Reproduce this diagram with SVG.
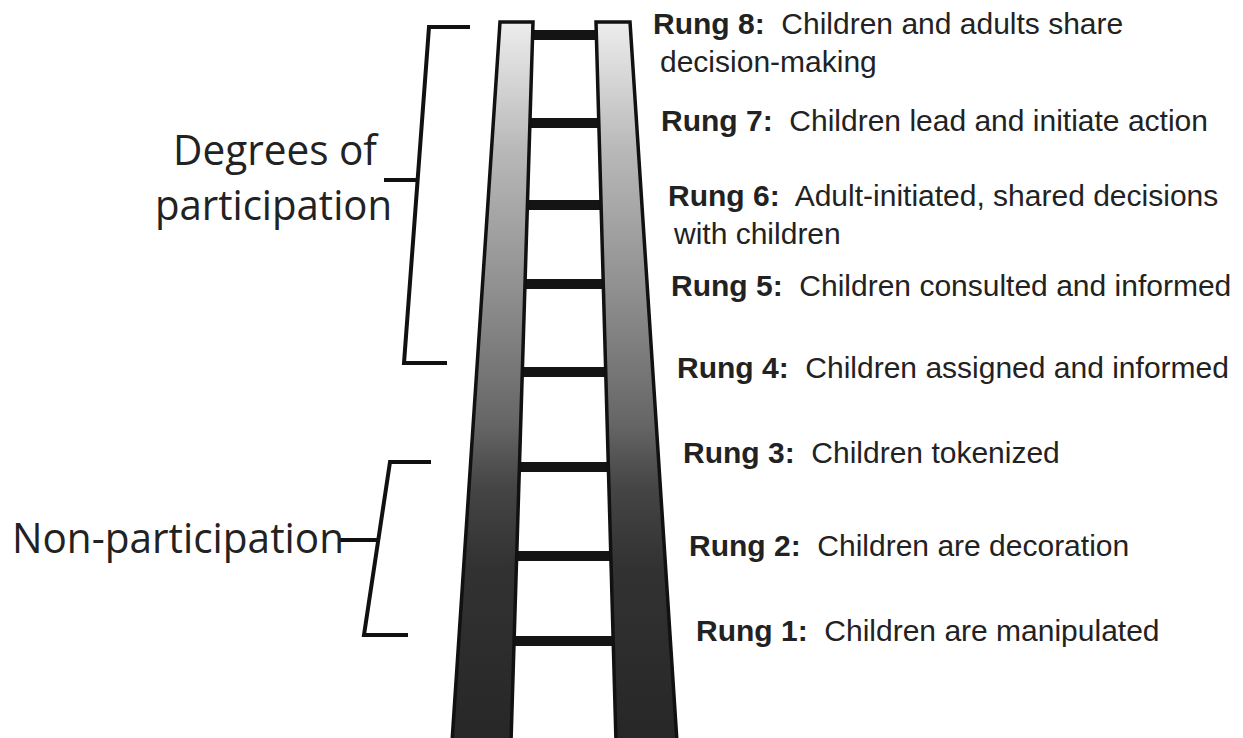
<svg xmlns="http://www.w3.org/2000/svg" width="1243" height="738" viewBox="0 0 1243 738">
<style>
.rung-label{font-family:"Liberation Sans",Arial,sans-serif;font-size:30px;fill:#222;white-space:pre}
.rung-label .b{font-weight:bold}
.side{font-family:"Open Sans","Liberation Sans",sans-serif;font-size:42px;fill:#222}
.bracket{fill:none;stroke:#111;stroke-width:4;stroke-linejoin:miter}
.rail{fill:url(#railGrad);stroke:#111;stroke-width:3.5;stroke-linejoin:miter}
.step{fill:#141414}
</style>
<defs>
<linearGradient id="railGrad" x1="0" y1="22" x2="0" y2="738" gradientUnits="userSpaceOnUse">
<stop offset="0" stop-color="#ededed"/>
<stop offset="0.18" stop-color="#b8b8b8"/>
<stop offset="0.39" stop-color="#8c8c8c"/>
<stop offset="0.56" stop-color="#666"/>
<stop offset="0.65" stop-color="#454545"/>
<stop offset="0.76" stop-color="#323232"/>
<stop offset="1" stop-color="#272727"/>
</linearGradient>
</defs>
<rect width="1243" height="738" fill="#fff"/>
<g id="ladder">
<rect class="step" x="525" y="30" width="80" height="10"/>
<rect class="step" x="525" y="118" width="80" height="10"/>
<rect class="step" x="522" y="200" width="85" height="10"/>
<rect class="step" x="520" y="279" width="88" height="10"/>
<rect class="step" x="518" y="367" width="92" height="10"/>
<rect class="step" x="515" y="462" width="98" height="10"/>
<rect class="step" x="512" y="551" width="104" height="10"/>
<rect class="step" x="510" y="636" width="108" height="10"/>
<polygon class="rail" points="500,22 533,22 511,742 452,742"/>
<polygon class="rail" points="596,22 630,22 677,742 616,742"/>
</g>
<g id="connectors">
<polyline class="bracket" points="470,27 429,27 404,363 447,363"/>
<line class="bracket" x1="384" y1="180" x2="418" y2="180"/>
<polyline class="bracket" points="431,462 390,462 364,635 408,635"/>
<line class="bracket" x1="340" y1="540" x2="379" y2="540"/>
</g>
<g id="degrees">
<text class="side" x="173" y="165" textLength="204" lengthAdjust="spacingAndGlyphs">Degrees of</text>
<text class="side" x="155" y="220" textLength="237" lengthAdjust="spacingAndGlyphs">participation</text>
</g>
<g id="nonparticipation">
<text class="side" x="12" y="553" textLength="332" lengthAdjust="spacingAndGlyphs">Non-participation</text>
</g>
<g id="rung8"><text class="rung-label" x="653" y="34"><tspan class="b">Rung 8:</tspan>  Children and adults share</text>
<text class="rung-label" x="660" y="72">decision-making</text></g>
<g id="rung7"><text class="rung-label" x="661" y="131"><tspan class="b">Rung 7:</tspan>  Children lead and initiate action</text></g>
<g id="rung6"><text class="rung-label" x="668" y="206"><tspan class="b">Rung 6:</tspan>  Adult-initiated, shared decisions</text>
<text class="rung-label" x="674" y="244">with children</text></g>
<g id="rung5"><text class="rung-label" x="671" y="296"><tspan class="b">Rung 5:</tspan>  Children consulted and informed</text></g>
<g id="rung4"><text class="rung-label" x="677" y="378"><tspan class="b">Rung 4:</tspan>  Children assigned and informed</text></g>
<g id="rung3"><text class="rung-label" x="683" y="463"><tspan class="b">Rung 3:</tspan>  Children tokenized</text></g>
<g id="rung2"><text class="rung-label" x="689" y="556"><tspan class="b">Rung 2:</tspan>  Children are decoration</text></g>
<g id="rung1"><text class="rung-label" x="696" y="641"><tspan class="b">Rung 1:</tspan>  Children are manipulated</text></g>
</svg>
